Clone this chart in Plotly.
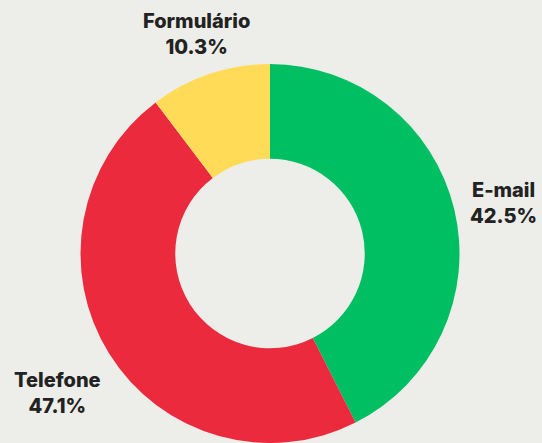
import plotly.graph_objects as go

W, H = 542, 443

categories = ["E-mail", "Telefone", "Formulário"]
values = [42.5, 47.1, 10.3]
colors = ["#00BF63", "#EB2A3E", "#FFDB58"]
bg = "#EDEDE9"

# label anchor pixel positions (center x, top y of first line)
label_pos = {"E-mail": (503, 176), "Telefone": (57, 366), "Formulário": (196, 7)}

fig = go.Figure(go.Pie(
    labels=categories, values=values, hole=0.5, sort=False,
    direction="clockwise", rotation=0,
    marker=dict(colors=colors, line=dict(width=0)),
    textinfo="none", hoverinfo="label+percent",
    domain=dict(x=[78 / W, 462 / W], y=[0, 1 - 64 / H]),
    showlegend=False,
))

for cat, v in zip(categories, values):
    px, py = label_pos[cat]
    fig.add_annotation(
        x=px / W, y=1 - py / H, xref="paper", yref="paper",
        xanchor="center", yanchor="top", showarrow=False,
        text=f"{cat}<br>{v:.1f}%",
        font=dict(family="Inter", size=20, color="#222222", weight=800),
        align="center",
    )

fig.update_layout(
    width=W, height=H, margin=dict(l=0, r=0, t=0, b=0),
    paper_bgcolor=bg, plot_bgcolor=bg,
)
fig.write_html("out.html")
